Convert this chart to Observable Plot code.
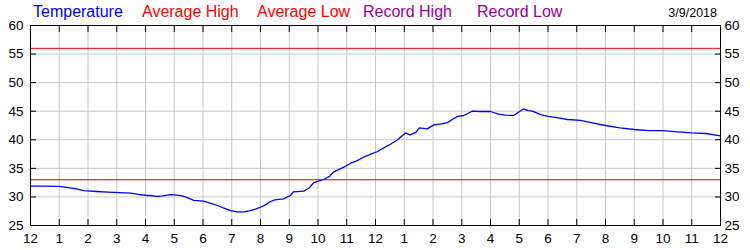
<!DOCTYPE html>
<html><head><meta charset="utf-8">
<script src="https://cdn.jsdelivr.net/npm/d3@7"></script>
<script src="https://cdn.jsdelivr.net/npm/@observablehq/plot@0.6"></script>
<style>
body{margin:0;background:#fff;font-family:"Liberation Sans",Arial,sans-serif}
#wrap{position:relative;width:750px;height:250px}
.leg{position:absolute;font-size:16px;line-height:1;white-space:nowrap;top:4px}
#date{position:absolute;font-size:12.5px;line-height:1;top:6.7px;right:33px;color:#000}
svg{display:block}
</style></head><body><div id="wrap"></div>
<script>
// Data
const hours = [0,0.5,1.0,1.5,1.85,2.3,2.7,3.1,3.5,3.75,4.05,4.17,4.4,4.6,4.87,5.1,5.28,5.5,5.68,6.02,6.25,6.5,6.75,6.96,7.2,7.42,7.65,7.85,8.0,8.2,8.35,8.5,8.8,9.04,9.15,9.5,9.7,9.85,10.2,10.4,10.55,10.9,11.13,11.35,11.58,11.8,12.07,12.17,12.4,12.55,12.77,13.04,13.2,13.4,13.53,13.8,14.03,14.3,14.5,14.67,14.85,15.07,15.36,15.65,16.0,16.28,16.5,16.8,17.0,17.15,17.3,17.46,17.74,18.0,18.2,18.68,19.13,19.5,20.0,20.5,21.0,21.5,22.0,22.5,23.0,23.5,24.0];
const temps = [31.9,31.9,31.85,31.5,31.1,30.95,30.85,30.75,30.65,30.45,30.25,30.25,30.1,30.2,30.4,30.3,30.2,29.8,29.4,29.25,28.9,28.5,28.0,27.6,27.4,27.4,27.6,27.9,28.2,28.7,29.2,29.5,29.65,30.25,30.9,31.0,31.6,32.5,33.05,33.6,34.4,35.2,35.9,36.3,36.95,37.4,37.95,38.25,38.9,39.3,40.0,41.2,40.85,41.3,42.1,41.9,42.6,42.8,43.0,43.55,44.1,44.25,45.0,44.95,44.95,44.5,44.3,44.25,44.9,45.4,45.1,45.0,44.4,44.1,43.95,43.55,43.4,43.0,42.5,42.1,41.8,41.6,41.6,41.4,41.2,41.1,40.7];
const averageHigh = [56];
const averageLow = [33];
const xTicks = d3.range(0, 25, 1);
const xTickLabels = ["12","1","2","3","4","5","6","7","8","9","10","11","12","1","2","3","4","5","6","7","8","9","10","11","12"];
const yTicks = [25,30,35,40,45,50,55,60];
const legendItems = ["Temperature","Average High","Average Low","Record High","Record Low"];
const legendColors = ["#0000ff","#ff0000","#ff0000","#9b009b","#9b009b"];
const legendLeft = [33,142,257,363,477];
const dateLabel = "3/9/2018";

const data = hours.map((h,i)=>({h, t: temps[i]}));
const fmt = h => xTickLabels[h];

const chart = Plot.plot({
  width: 750, height: 250,
  marginLeft: 30, marginRight: 30, marginTop: 25, marginBottom: 25,
  x: {domain: [0,24], label: null},
  y: {domain: [25,60], label: null},
  style: {fontSize: "13.5px", fontFamily: '"Liberation Sans", Arial, sans-serif', color: "#000", background: "transparent"},
  marks: [
    Plot.gridX(xTicks, {stroke: "#c8c8c8", strokeOpacity: 1}),
    Plot.gridY(yTicks, {stroke: "#c8c8c8", strokeOpacity: 1}),
    Plot.ruleY(averageHigh, {stroke: "#ff0000", strokeWidth: 1}),
    Plot.ruleY(averageLow, {stroke: "#c80000", strokeWidth: 1}),
    Plot.line(data, {x: "h", y: "t", stroke: "#0000ff", strokeWidth: 1.3}),
    Plot.frame({stroke: "#000"}),
    Plot.axisX(xTicks, {anchor: "bottom", label: null, tickSize: -6, tickPadding: 14, tickFormat: fmt}),
    Plot.axisX(xTicks, {anchor: "top", label: null, tickSize: -6, tickFormat: () => ""}),
    Plot.axisY(yTicks, {anchor: "left", label: null, tickSize: -6, tickPadding: 13}),
    Plot.axisY(yTicks, {anchor: "right", label: null, tickSize: -6, tickPadding: 10})
  ]
});
const wrap = document.getElementById("wrap");
wrap.appendChild(chart);
legendItems.forEach((t,i)=>{
  const s = document.createElement("div");
  s.className = "leg";
  s.textContent = t;
  s.style.left = legendLeft[i] + "px";
  s.style.color = legendColors[i];
  wrap.appendChild(s);
});
const d = document.createElement("div");
d.id = "date"; d.textContent = dateLabel;
wrap.appendChild(d);
</script>
</body></html>
